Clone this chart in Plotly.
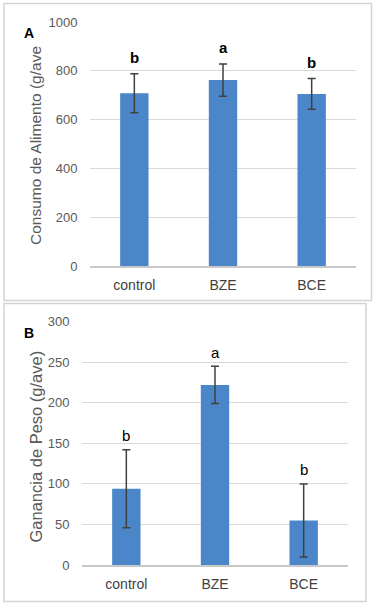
import plotly.graph_objects as go

categories = ["control", "BZE", "BCE"]

# Panel A: Consumo de Alimento
consumo = [708, 762, 705]
consumo_err = [80, 66, 63]
consumo_letters = ["b", "a", "b"]
consumo_ticks = [0, 200, 400, 600, 800, 1000]

# Panel B: Ganancia de Peso
ganancia = [94, 222, 55]
ganancia_err = [48, 23, 45]
ganancia_letters = ["b", "a", "b"]
ganancia_ticks = [0, 50, 100, 150, 200, 250, 300]

W, H = 375, 605
FONT = "Liberation Sans, Arial, sans-serif"
BAR = "#4a86c8"
ERR = "#404040"
GRID = "#d9d9d9"
TICK = "#595959"

def px(x):
    return x / W

def py(y):
    return 1 - y / H

fig = go.Figure()

fig.add_trace(go.Bar(
    x=categories, y=consumo, xaxis="x", yaxis="y",
    marker=dict(color=BAR, line=dict(width=0)),
    width=0.32,
    error_y=dict(type="data", array=consumo_err, visible=True,
                 color=ERR, thickness=1.5, width=4),
    showlegend=False, hoverinfo="skip",
))
fig.add_trace(go.Bar(
    x=categories, y=ganancia, xaxis="x2", yaxis="y2",
    marker=dict(color=BAR, line=dict(width=0)),
    width=0.32,
    error_y=dict(type="data", array=ganancia_err, visible=True,
                 color=ERR, thickness=1.5, width=4),
    showlegend=False, hoverinfo="skip",
))

axis_common_x = dict(
    showgrid=False, showline=True, linecolor="#c8c8c8", linewidth=1.5,
    ticks="outside", ticklen=5, tickcolor="rgba(0,0,0,0)",
    tickfont=dict(family=FONT, size=14, color="#404040"),
    fixedrange=True, automargin=False,
)
axis_common_y = dict(
    showgrid=True, gridcolor=GRID, gridwidth=1, zeroline=False,
    showline=False,
    ticks="outside", ticklen=9, tickcolor="rgba(0,0,0,0)",
    tickfont=dict(family=FONT, size=13, color=TICK),
    fixedrange=True, automargin=False,
)

fig.update_layout(
    width=W, height=H,
    margin=dict(l=0, r=0, t=0, b=0, pad=0, autoexpand=False),
    paper_bgcolor="white", plot_bgcolor="white",
    bargap=0.68,
    xaxis=dict(domain=[px(90), px(356)], anchor="y", **axis_common_x),
    yaxis=dict(domain=[py(266), py(22)], anchor="x", range=[0, 1000],
               tickvals=consumo_ticks, **axis_common_y),
    xaxis2=dict(domain=[px(82), px(348)], anchor="y2", **axis_common_x),
    yaxis2=dict(domain=[py(565), py(321.7)], anchor="x2", range=[0, 300],
                tickvals=ganancia_ticks, **axis_common_y),
)

annotations = []
# significance letters
for c, v, e, t in zip(categories, consumo, consumo_err, consumo_letters):
    annotations.append(dict(x=c, y=v + e, xref="x", yref="y", text=t,
                            showarrow=False, xanchor="center", yanchor="middle",
                            yshift=16,
                            font=dict(family=FONT, size=15, color="#000000",
                                      weight="bold")))
for c, v, e, t in zip(categories, ganancia, ganancia_err, ganancia_letters):
    annotations.append(dict(x=c, y=v + e, xref="x2", yref="y2", text=t,
                            showarrow=False, xanchor="center", yanchor="middle",
                            yshift=14,
                            font=dict(family=FONT, size=15, color="#000000")))

# panel labels
annotations.append(dict(x=px(29), y=py(33.5), xref="paper", yref="paper",
                        text="<b>A</b>", showarrow=False,
                        xanchor="center", yanchor="middle",
                        font=dict(family=FONT, size=14, color="#000000")))
annotations.append(dict(x=px(29), y=py(333), xref="paper", yref="paper",
                        text="<b>B</b>", showarrow=False,
                        xanchor="center", yanchor="middle",
                        font=dict(family=FONT, size=14, color="#000000")))

# y-axis titles
annotations.append(dict(x=px(35), y=py(146), xref="paper", yref="paper",
                        text="Consumo de Alimento (g/ave", textangle=-90,
                        showarrow=False, xanchor="center", yanchor="middle",
                        font=dict(family=FONT, size=15.5, color=TICK)))
annotations.append(dict(x=px(35), y=py(446.5), xref="paper", yref="paper",
                        text="Ganancia de Peso (g/ave)", textangle=-90,
                        showarrow=False, xanchor="center", yanchor="middle",
                        font=dict(family=FONT, size=16.5, color=TICK)))

fig.update_layout(annotations=annotations)

# panel frames
fig.add_shape(type="rect", xref="paper", yref="paper",
              x0=px(4), x1=px(371.5), y0=py(300.5), y1=py(3.5),
              line=dict(color="#d4d4d4", width=1.5), layer="below")
fig.add_shape(type="rect", xref="paper", yref="paper",
              x0=px(4), x1=px(366), y0=py(601.5), y1=py(303.5),
              line=dict(color="#d4d4d4", width=1.5), layer="below")

fig.write_html("out.html", config={"displayModeBar": False},
               post_script="document.body.style.margin='0px';")
